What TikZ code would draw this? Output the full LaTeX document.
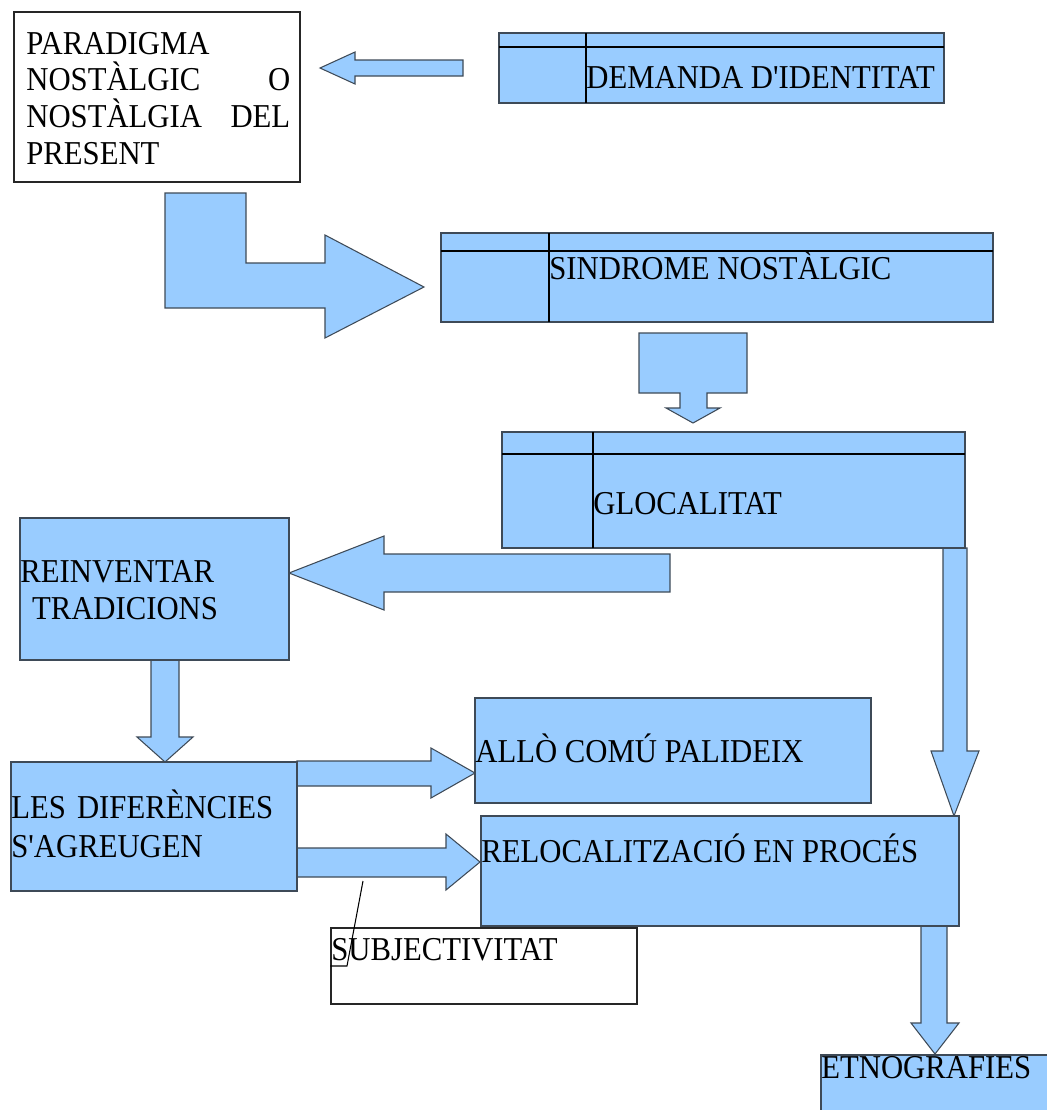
\documentclass[tikz,border=0pt]{standalone}
\usepackage{fontspec}
\newfontfamily\diagfont{Liberation Serif}[FakeStretch=0.92]
\usetikzlibrary{fit}
\definecolor{boxblue}{HTML}{99CCFF}
\definecolor{edge}{HTML}{3E4A57}

\begin{document}
\begin{tikzpicture}[
  x=0.02cm, y=-0.02cm,
  bbox/.style={fill=boxblue,draw=edge,line width=0.6pt,inner sep=0pt},
  wbox/.style={fill=white,draw=black!85,line width=0.6pt,inner sep=0pt},
  blk/.style={fill=boxblue,draw=edge,line width=0.6pt},
  sep/.style={draw=black,line width=0.6pt},
  txt/.style={anchor=base west,inner sep=0pt,font=\diagfont\fontsize{19}{21}\selectfont},
  lines/.style={txt,text width=#1,align=left}
]
\useasboundingbox (0,0) rectangle (1047,1110);
\clip (0,0) rectangle (1047,1110);

% block arrows
\draw[blk] (463,60) -- (355,60) -- (355,52) -- (320,68) -- (355,84) -- (355,76) -- (463,76) -- cycle;
\draw[blk] (165,193) -- (246,193) -- (246,263) -- (325,263) -- (325,235) -- (424,287)
  -- (325,338) -- (325,308) -- (165,308) -- cycle;
\draw[blk] (639,333) -- (747,333) -- (747,393) -- (707,393) -- (707,408) -- (720,408)
  -- (693,423) -- (666,408) -- (680,408) -- (680,393) -- (639,393) -- cycle;
\draw[blk] (670,554) -- (384,554) -- (384,536) -- (289,573) -- (384,610) -- (384,592) -- (670,592) -- cycle;
\draw[blk] (151,660) -- (179,660) -- (179,737) -- (193,737) -- (165,762) -- (137,737) -- (151,737) -- cycle;
\draw[blk] (297,761) -- (431,761) -- (431,748) -- (475,773) -- (431,798) -- (431,786) -- (297,786) -- cycle;
\draw[blk] (297,848) -- (446,848) -- (446,834) -- (480,862) -- (446,890) -- (446,877) -- (297,877) -- cycle;
\draw[blk] (943,548) -- (967,548) -- (967,751) -- (979,751) -- (954,816) -- (931,751) -- (943,751) -- cycle;
\draw[blk] (921,926) -- (947,926) -- (947,1023) -- (959,1023) -- (935,1054) -- (911,1023) -- (921,1023) -- cycle;

% boxes
\node[wbox,fit={(14,12) (300,182)}] (para) {};
\node[bbox,fit={(499,33) (944,103)}] (dem) {};
\node[bbox,fit={(441,233) (993,322)}] (sin) {};
\node[bbox,fit={(502,432) (965,548)}] (glo) {};
\node[bbox,fit={(20,518) (289,660)}] (rei) {};
\node[bbox,fit={(11,762) (297,891)}] (dif) {};
\node[bbox,fit={(475,698) (871,803)}] (allo) {};
\node[bbox,fit={(481,816) (959,926)}] (rel) {};
\node[wbox,fit={(331,928) (637,1004)}] (subj) {};
\node[bbox,fit={(821,1055) (1070,1130)}] (etn) {};

% table lines in the header boxes
\draw[sep] (499,47) -- (944,47) (586,33) -- (586,103);
\draw[sep] (441,251) -- (993,251) (549,233) -- (549,322);
\draw[sep] (502,454) -- (965,454) (593,432) -- (593,548);

% texts
\node[lines=5.28cm] (paraT) at (26,54) {PARADIGMA\\ NOSTÀLGIC \hfill O\\ NOSTÀLGIA \hfill DEL\\ PRESENT};
\node[txt] (demT) at (586,88) {DEMANDA D'IDENTITAT};
\node[txt] (sinT) at (549,279) {SINDROME NOSTÀLGIC};
\node[txt] (gloT) at (593,514) {GLOCALITAT};
\node[lines=8cm,font=\diagfont\fontsize{19}{21.6}\selectfont] (reiT) at (20,582) {REINVENTAR\\ \hspace*{.35em}TRADICIONS};
\node[lines=8cm,font=\diagfont\fontsize{19}{22.2}\selectfont] (difT) at (11,818) {LES DIFERÈNCIES\\ S'AGREUGEN};
\node[txt] (alloT) at (475,762) {ALLÒ COMÚ PALIDEIX};
\node[txt] (relT) at (481,862) {RELOCALITZACIÓ EN PROCÉS};
\node[txt] (subT) at (331,960) {SUBJECTIVITAT};
\node[txt] (etnT) at (821,1078) {ETNOGRAFIES};

% callout of SUBJECTIVITAT
\coordinate (subjpt) at (363,881);
\draw[line width=0.6pt] (subjpt) -- (347,966) -- (subj.west |- 0,966);
\end{tikzpicture}
\end{document}
